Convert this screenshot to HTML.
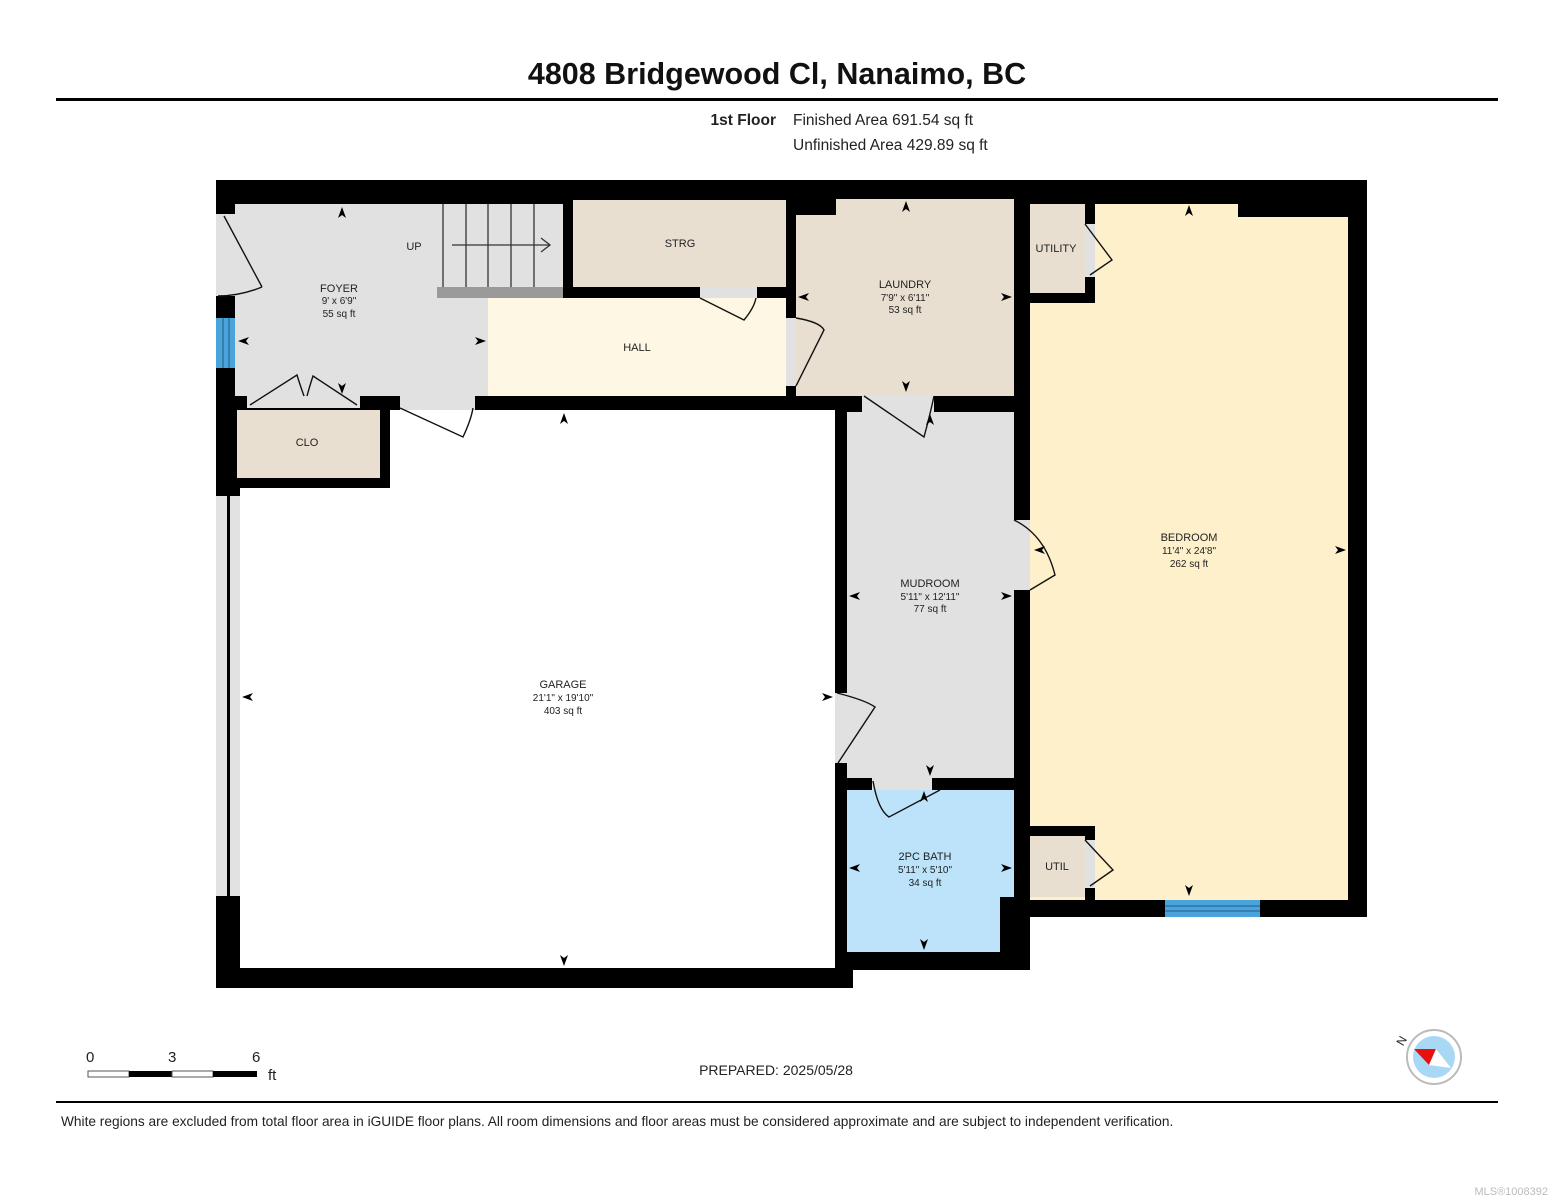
<!DOCTYPE html>
<html><head><meta charset="utf-8"><style>
html,body{margin:0;padding:0;background:#fff;}
svg{display:block;font-family:"Liberation Sans",Arial,sans-serif;}
</style></head><body>
<svg width="1553" height="1200" viewBox="0 0 1553 1200" xmlns="http://www.w3.org/2000/svg">
<defs>
<path id="au" d="M0,-6 L4,5 L0,2 L-4,5 Z" fill="#000"/>
</defs>
<text x="777" y="84" text-anchor="middle" font-size="30.5" font-weight="bold" fill="#111">4808 Bridgewood Cl, Nanaimo, BC</text>
<rect x="56" y="98" width="1442" height="3" fill="#000"/>
<text x="776" y="125" text-anchor="end" font-size="15.5" font-weight="bold" fill="#222">1st Floor</text>
<text x="793" y="125" font-size="15.5" fill="#222">Finished Area 691.54 sq ft</text>
<text x="793" y="150" font-size="15.5" fill="#222">Unfinished Area 429.89 sq ft</text>

<polygon points="216,180 1367,180 1367,917 1030,917 1030,970 853,970 853,988 216,988" fill="#000"/>
<rect x="240" y="410" width="595" height="558" fill="#fff"/>
<rect x="216" y="496" width="24" height="400" fill="#e2e2e2"/>
<rect x="227" y="496" width="3" height="400" fill="#000"/>
<rect x="390" y="398" width="445" height="12" fill="#000"/>
<rect x="235" y="204" width="253" height="204" fill="#e1e1e1"/>
<rect x="437" y="204" width="126" height="83" fill="#e1e1e1"/>
<rect x="216" y="214" width="19" height="82" fill="#e1e1e1"/>
<rect x="216" y="318" width="19" height="50" fill="#4ba3db"/>
<line x1="223" y1="318" x2="223" y2="368" stroke="#1d5d86" stroke-width="1"/>
<line x1="229" y1="318" x2="229" y2="368" stroke="#1d5d86" stroke-width="1"/>
<rect x="563" y="200" width="10" height="98" fill="#000"/>
<g stroke="#333" stroke-width="1.3">
<line x1="443" y1="204" x2="443" y2="287"/><line x1="466" y1="204" x2="466" y2="287"/>
<line x1="488" y1="204" x2="488" y2="287"/><line x1="511" y1="204" x2="511" y2="287"/>
<line x1="534" y1="204" x2="534" y2="287"/>
<line x1="452" y1="245" x2="550" y2="245"/><polyline points="541,238 550,245 541,252" fill="none"/>
</g>
<rect x="437" y="287" width="126" height="11" fill="#9a9a9a"/>
<text x="414" y="250" text-anchor="middle" font-size="11" fill="#222">UP</text>
<rect x="488" y="298" width="298" height="98" fill="#fdf7e3"/>
<rect x="573" y="287" width="213" height="11" fill="#000"/>
<rect x="700" y="287" width="57" height="11" fill="#e1e1e1"/>
<rect x="573" y="200" width="213" height="87" fill="#e8dfd0"/>
<rect x="235" y="396" width="12" height="12" fill="#000"/>
<rect x="360" y="396" width="40" height="14" fill="#000"/>
<rect x="247" y="398" width="113" height="10" fill="#e1e1e1"/>
<rect x="400" y="398" width="75" height="12" fill="#e1e1e1"/>
<rect x="475" y="396" width="315" height="14" fill="#000"/>
<rect x="235" y="408" width="155" height="80" fill="#000"/>
<rect x="237" y="410" width="143" height="68" fill="#e8dfd0"/>
<rect x="796" y="199" width="218" height="197" fill="#e8dfd0"/>
<rect x="796" y="199" width="40" height="16" fill="#000"/>
<rect x="786" y="318" width="10" height="68" fill="#e1e1e1"/>
<rect x="862" y="396" width="72" height="16" fill="#e1e1e1"/>
<rect x="1030" y="204" width="55" height="89" fill="#e8dfd0"/>
<rect x="1030" y="303" width="318" height="597" fill="#fdf0cb"/>
<rect x="1095" y="204" width="143" height="99" fill="#fdf0cb"/>
<rect x="1095" y="217" width="253" height="86" fill="#fdf0cb"/>
<rect x="1085" y="224" width="10" height="53" fill="#e1e1e1"/>
<rect x="1014" y="520" width="16" height="70" fill="#e1e1e1"/>
<rect x="1165" y="900" width="95" height="17" fill="#4ba3db"/>
<line x1="1165" y1="906" x2="1260" y2="906" stroke="#1d5d86"/>
<line x1="1165" y1="911" x2="1260" y2="911" stroke="#1d5d86"/>
<rect x="847" y="412" width="167" height="366" fill="#e1e1e1"/>
<rect x="835" y="693" width="12" height="70" fill="#e1e1e1"/>
<rect x="847" y="790" width="153" height="162" fill="#bde3fb"/>
<rect x="1000" y="790" width="14" height="107" fill="#bde3fb"/>
<rect x="872" y="778" width="60" height="12" fill="#e1e1e1"/>
<rect x="1030" y="836" width="55" height="61" fill="#e8dfd0"/>
<rect x="1030" y="826" width="65" height="10" fill="#000"/>
<rect x="1085" y="826" width="10" height="74" fill="#000"/>
<rect x="1085" y="840" width="10" height="48" fill="#e1e1e1"/>

<g stroke="#111" stroke-width="1.4" fill="none">
<path d="M224,216 L262,287 M262,287 Q240,296 218,296"/>
<path d="M250,405 L297,375 Q300,385 304,396 M357,405 L313,376 Q310,385 307,396"/>
<path d="M400,408 L463,437 Q471,420 473,408"/>
<path d="M700,298 L744,320 Q754,308 756,298"/>
<path d="M796,318 Q820,322 824,330 L796,386"/>
<path d="M864,396 L924,437 Q930,415 934,396"/>
<path d="M1085,224 L1112,260 L1090,275"/>
<path d="M1014,520 Q1045,535 1055,575 L1030,590"/>
<path d="M837,693 Q865,700 875,707 L838,763"/>
<path d="M873,781 Q878,810 889,817 L940,790"/>
<path d="M1085,840 L1113,870 L1090,886"/>
</g>

<g>
<use href="#au" transform="translate(342,213)"/>
<use href="#au" transform="translate(342,388) rotate(180)"/>
<use href="#au" transform="translate(244,341) rotate(-90)"/>
<use href="#au" transform="translate(480,341) rotate(90)"/>
<use href="#au" transform="translate(906,207)"/>
<use href="#au" transform="translate(906,386) rotate(180)"/>
<use href="#au" transform="translate(804,297) rotate(-90)"/>
<use href="#au" transform="translate(1006,297) rotate(90)"/>
<use href="#au" transform="translate(1189,211)"/>
<use href="#au" transform="translate(1189,890) rotate(180)"/>
<use href="#au" transform="translate(1040,550) rotate(-90)"/>
<use href="#au" transform="translate(1340,550) rotate(90)"/>
<use href="#au" transform="translate(564,419)"/>
<use href="#au" transform="translate(564,960) rotate(180)"/>
<use href="#au" transform="translate(248,697) rotate(-90)"/>
<use href="#au" transform="translate(827,697) rotate(90)"/>
<use href="#au" transform="translate(930,420)"/>
<use href="#au" transform="translate(930,770) rotate(180)"/>
<use href="#au" transform="translate(855,596) rotate(-90)"/>
<use href="#au" transform="translate(1006,596) rotate(90)"/>
<use href="#au" transform="translate(924,797)"/>
<use href="#au" transform="translate(924,944) rotate(180)"/>
<use href="#au" transform="translate(855,868) rotate(-90)"/>
<use href="#au" transform="translate(1006,868) rotate(90)"/>
</g>

<g font-size="11" fill="#222" text-anchor="middle">
<text x="339" y="292">FOYER</text><text x="339" y="304" font-size="10">9' x 6'9"</text><text x="339" y="317" font-size="10">55 sq ft</text>
<text x="680" y="247">STRG</text>
<text x="637" y="351">HALL</text>
<text x="307" y="446">CLO</text>
<text x="905" y="288">LAUNDRY</text><text x="905" y="301" font-size="10">7'9" x 6'11"</text><text x="905" y="313" font-size="10">53 sq ft</text>
<text x="1056" y="252">UTILITY</text>
<text x="1189" y="541">BEDROOM</text><text x="1189" y="554" font-size="10">11'4" x 24'8"</text><text x="1189" y="567" font-size="10">262 sq ft</text>
<text x="930" y="587">MUDROOM</text><text x="930" y="600" font-size="10">5'11" x 12'11"</text><text x="930" y="612" font-size="10">77 sq ft</text>
<text x="563" y="688">GARAGE</text><text x="563" y="701" font-size="10">21'1" x 19'10"</text><text x="563" y="714" font-size="10">403 sq ft</text>
<text x="925" y="860">2PC BATH</text><text x="925" y="873" font-size="10">5'11" x 5'10"</text><text x="925" y="886" font-size="10">34 sq ft</text>
<text x="1057" y="870">UTIL</text>
</g>

<g font-size="15" fill="#222">
<text x="86" y="1062">0</text><text x="168" y="1062">3</text><text x="252" y="1062">6</text><text x="268" y="1080">ft</text>
</g>
<rect x="88" y="1071" width="41" height="6" fill="#fff" stroke="#555" stroke-width="1"/>
<rect x="129" y="1071" width="43" height="6" fill="#000"/>
<rect x="172" y="1071" width="41" height="6" fill="#fff" stroke="#555" stroke-width="1"/>
<rect x="213" y="1071" width="44" height="6" fill="#000"/>
<text x="776" y="1075" text-anchor="middle" font-size="14" fill="#222">PREPARED: 2025/05/28</text>
<circle cx="1434" cy="1057" r="27" fill="#fff" stroke="#bbb" stroke-width="2"/>
<circle cx="1434" cy="1057" r="21" fill="#a9d8f5"/>
<polygon points="1414,1049 1436,1049 1429,1065" fill="#e81010"/>
<polygon points="1436,1049 1451,1068 1429,1065" fill="#fff"/>
<text x="1398" y="1046" font-size="12" fill="#222" transform="rotate(-60 1401 1042)">N</text>

<rect x="56" y="1101" width="1442" height="2" fill="#000"/>
<text x="61" y="1126" font-size="13.7" fill="#222">White regions are excluded from total floor area in iGUIDE floor plans. All room dimensions and floor areas must be considered approximate and are subject to independent verification.</text>
<text x="1548" y="1195" text-anchor="end" font-size="11" fill="#bbb">MLS®1008392</text>
</svg>
</body></html>
